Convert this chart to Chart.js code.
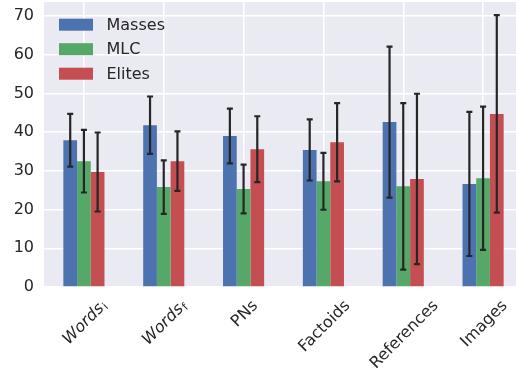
<!DOCTYPE html>
<html>
<head>
<meta charset="utf-8">
<script src="https://cdn.jsdelivr.net/npm/chart.js@4"></script>
<style>
  html, body { margin: 0; padding: 0; overflow: hidden; background: #ffffff; }
  #wrap { width: 523px; height: 370px; position: relative; }
</style>
</head>
<body>
<div id="wrap"><canvas id="c"></canvas></div>
<script>
// Categories ("_x" marks a subscript on an italic base word)
const categories = ['Words_i', 'Words_f', 'PNs', 'Factoids', 'References', 'Images'];
const seriesNames = ['Masses', 'MLC', 'Elites'];

// Means and error-bar half-widths per group
const masses    = [37.9, 41.8, 39.0, 35.4, 42.6, 26.6];
const massesErr = [6.8, 7.4, 7.05, 7.9, 19.5, 18.6];
const mlc       = [32.5, 25.8, 25.3, 27.3, 26.0, 28.1];
const mlcErr    = [8.1, 6.9, 6.3, 7.35, 21.5, 18.5];
const elites    = [29.7, 32.5, 35.6, 37.4, 27.9, 44.7];
const elitesErr = [10.2, 7.7, 8.5, 10.1, 22.0, 25.5];

const yTicks = [0, 10, 20, 30, 40, 50, 60, 70];

const colors = ['#4C72B0', '#55A868', '#C44E52'];
const textColor = '#262626';
const FONT = '"DejaVu Sans", sans-serif';

const errors = [massesErr, mlcErr, elitesErr];

// Plot background
const bgPlugin = {
  id: 'bg',
  beforeDraw(chart) {
    const { ctx, chartArea: a } = chart;
    ctx.save();
    ctx.fillStyle = '#EAEAF2';
    ctx.fillRect(a.left, a.top, a.right - a.left, a.bottom - a.top);
    ctx.restore();
  }
};

// Error bars with caps, centred on each bar
const errorBarPlugin = {
  id: 'errorBars',
  afterDatasetsDraw(chart) {
    const { ctx } = chart;
    const y = chart.scales.y;
    ctx.save();
    ctx.strokeStyle = textColor;
    ctx.lineWidth = 2.2;
    chart.data.datasets.forEach((ds, di) => {
      const meta = chart.getDatasetMeta(di);
      meta.data.forEach((bar, i) => {
        const v = ds.data[i], e = errors[di][i];
        const top = y.getPixelForValue(v + e);
        const bot = y.getPixelForValue(v - e);
        const x = bar.x;
        ctx.beginPath();
        ctx.moveTo(x, top); ctx.lineTo(x, bot);
        ctx.moveTo(x - 3, top); ctx.lineTo(x + 3, top);
        ctx.moveTo(x - 3, bot); ctx.lineTo(x + 3, bot);
        ctx.stroke();
      });
    });
    ctx.restore();
  }
};

// Legend in the upper-left corner of the plot
const legendPlugin = {
  id: 'cornerLegend',
  afterDraw(chart) {
    const { ctx, chartArea: a } = chart;
    ctx.save();
    ctx.font = `16px ${FONT}`;
    ctx.textBaseline = 'middle';
    ctx.textAlign = 'left';
    chart.data.datasets.forEach((ds, i) => {
      const cy = a.top + 22.7 + i * 24.5;
      ctx.fillStyle = ds.backgroundColor;
      ctx.fillRect(a.left + 15, cy - 6, 34, 12);
      ctx.fillStyle = textColor;
      ctx.fillText(ds.label, a.left + 62.5, cy + 1);
    });
    ctx.restore();
  }
};

// Rotated category labels, with italic base and subscript where given
const xLabelPlugin = {
  id: 'xLabels',
  afterDraw(chart) {
    const { ctx, chartArea: a } = chart;
    const xs = chart.scales.x;
    const fs = 16, sfs = 11;
    const capH = 0.73 * fs;
    ctx.save();
    ctx.fillStyle = textColor;
    ctx.textBaseline = 'alphabetic';
    ctx.textAlign = 'left';
    categories.forEach((lab, i) => {
      const parts = lab.split('_');
      const base = parts[0], sub = parts[1] || '';
      const baseFont = sub ? `italic ${fs}px ${FONT}` : `${fs}px ${FONT}`;
      ctx.font = baseFont;
      const wb = ctx.measureText(base).width;
      ctx.font = `${sfs}px ${FONT}`;
      const ws = sub ? ctx.measureText(sub).width + 1 : 0;
      const w = wb + ws;
      const half = (w + capH) / (2 * Math.SQRT2);
      const cx = xs.getPixelForValue(i);
      const cy = a.bottom + 11 + half;
      ctx.save();
      ctx.translate(cx, cy);
      ctx.rotate(-Math.PI / 4);
      ctx.font = baseFont;
      ctx.fillText(base, -w / 2, capH / 2);
      if (sub) {
        ctx.font = `${sfs}px ${FONT}`;
        ctx.fillText(sub, -w / 2 + wb + 1, capH / 2 + 2);
      }
      ctx.restore();
    });
    ctx.restore();
  }
};

new Chart(document.getElementById('c'), {
  type: 'bar',
  data: {
    labels: categories,
    datasets: [
      { label: seriesNames[0], data: masses, backgroundColor: colors[0] },
      { label: seriesNames[1], data: mlc, backgroundColor: colors[1] },
      { label: seriesNames[2], data: elites, backgroundColor: colors[2] }
    ]
  },
  options: {
    responsive: true,
    maintainAspectRatio: false,
    animation: false,
    layout: { padding: { top: 2, right: 0, left: 0, bottom: 0 } },
    datasets: {
      bar: { categoryPercentage: 0.515, barPercentage: 1.0, borderWidth: 0 }
    },
    plugins: {
      legend: { display: false },
      tooltip: { enabled: false }
    },
    scales: {
      x: {
        grid: { color: '#ffffff', lineWidth: 1.5, offset: false, drawTicks: false },
        border: { display: false },
        ticks: { display: false },
        afterFit(scale) { scale.height = 83; scale.paddingLeft = 0; scale.paddingRight = 0; }
      },
      y: {
        min: 0,
        max: 73.6,
        grid: { color: '#ffffff', lineWidth: 1.5, drawTicks: false },
        border: { display: false },
        afterBuildTicks(scale) { scale.ticks = yTicks.map(v => ({ value: v })); },
        ticks: {
          color: textColor,
          padding: 10,
          font: { family: 'DejaVu Sans', size: 16 }
        },
        afterFit(scale) { scale.width = 44; scale.paddingTop = 0; scale.paddingBottom = 0; }
      }
    }
  },
  plugins: [bgPlugin, errorBarPlugin, legendPlugin, xLabelPlugin]
});
</script>
</body>
</html>
